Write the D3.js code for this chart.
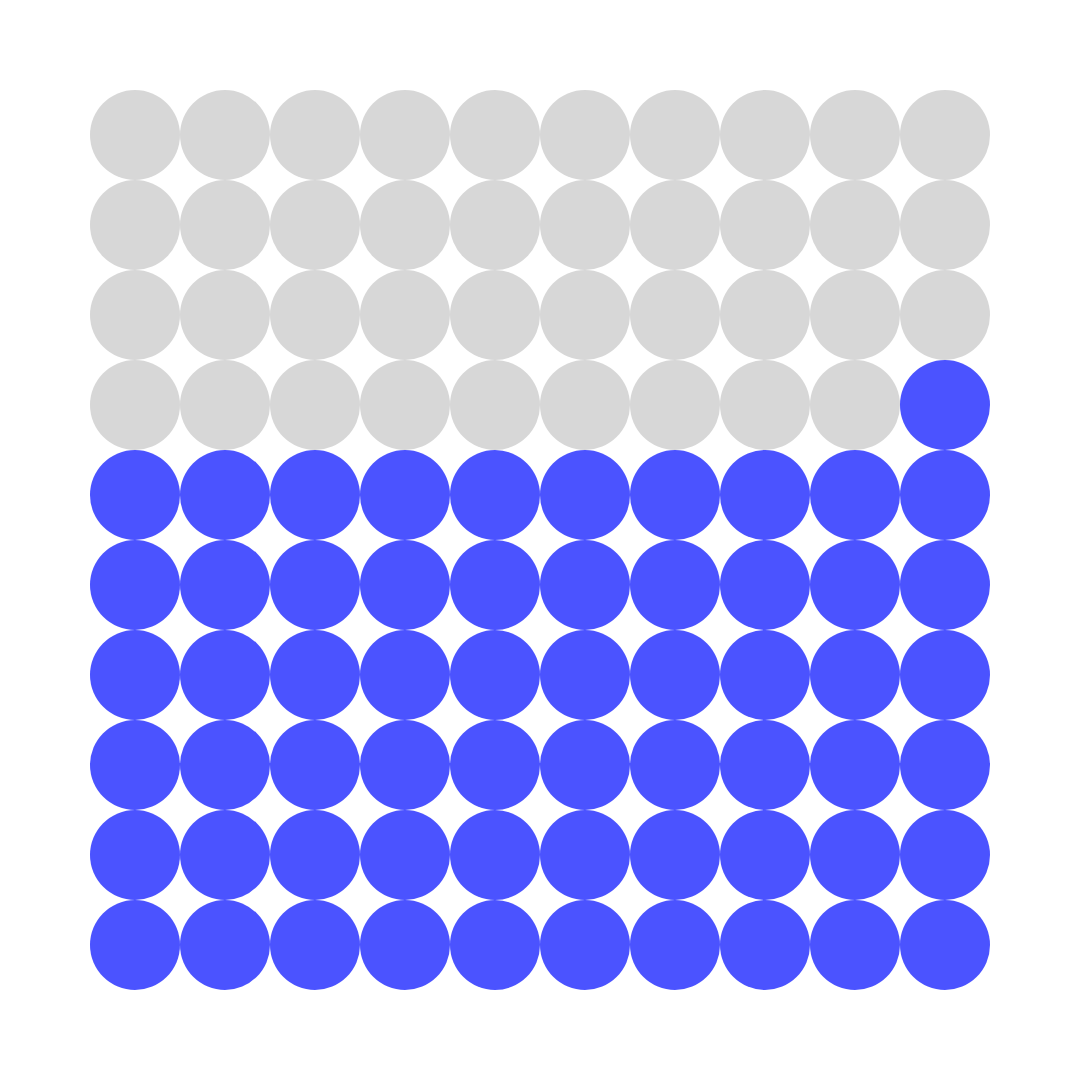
<!DOCTYPE html>
<html>
<head>
<meta charset="utf-8">
<script src="https://cdn.jsdelivr.net/npm/d3@7"></script>
<style>
  html, body { margin: 0; padding: 0; background: #fff; }
</style>
</head>
<body>
<div id="chart"></div>
<script>
var w = 1080;
var h = 1080;
var inset = 90;

// waffle: 100 cells, 61 filled
var total = 100;
var filled = 61;
var cols = d3.range(10);
var rows = d3.range(10);
var colors = { on: "#4b53ff", off: "#d7d7d7" };

var x = d3.scaleBand().domain(cols).range([inset, w - inset]).padding(0);
var y = d3.scaleBand().domain(rows).range([inset, h - inset]).padding(0);
var r = x.bandwidth() / 2;

// grey cells come first in reading order, then the filled ones
var cells = d3.range(total).map(function(i) {
   return {
      col: i % cols.length,
      row: Math.floor(i / cols.length),
      on: i >= total - filled
   };
});

var svg = d3.select("#chart")
            .append("svg")
            .attr("width", w)
            .attr("height", h);

svg.selectAll("circle")
   .data(cells)
   .join("circle")
   .attr("cx", function(d) { return x(d.col) + r; })
   .attr("cy", function(d) { return y(d.row) + r; })
   .attr("r", r)
   .attr("fill", function(d) { return d.on ? colors.on : colors.off; });
</script>
</body>
</html>
